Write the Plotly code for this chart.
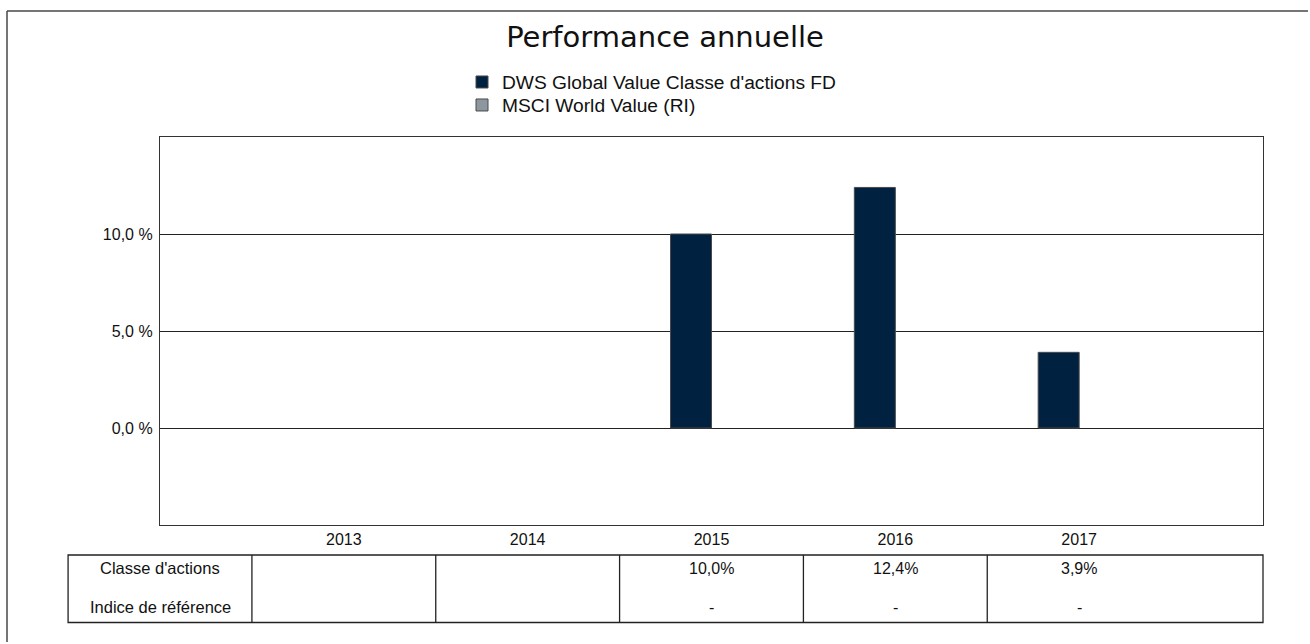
import plotly.graph_objects as go

# ---------------- data ----------------
years = ["2013", "2014", "2015", "2016", "2017"]
fund_values = [None, None, 10.0, 12.4, 3.9]
index_values = [None, None, None, None, None]
fund_table = ["", "", "10,0%", "12,4%", "3,9%"]
index_table = ["", "", "-", "-", "-"]
row_labels = ["Classe d'actions", "Indice de référence"]
series_names = ["DWS Global Value Classe d'actions FD", "MSCI World Value (RI)"]
y_ticks = [0, 5, 10]
y_ticktext = ["0,0 %", "5,0 %", "10,0 %"]
title_text = "Performance annuelle"

# ---------------- geometry ----------------
W, H = 1310, 644
L, R, T, B = 160, 47, 137, 119
PW, PH = W - L - R, H - T - B
XMIN, XMAX = -1, 5


def xp(px):
    return (px - L) / PW


def yp(py):
    return (H - B - py) / PH


def xcat(v):
    return (v - XMIN) / (XMAX - XMIN)


FONT = "Liberation Sans, Arial, sans-serif"
NAVY = "#00213F"
GREY = "#8D979F"

fig = go.Figure()
fig.add_trace(go.Bar(x=years, y=fund_values, name=series_names[0], legend="legend",
                     marker=dict(color=NAVY, line=dict(color="#4a4a4a", width=1))))
fig.add_trace(go.Bar(x=years, y=index_values, name=series_names[1], legend="legend2",
                     marker=dict(color=GREY, line=dict(color="#4a4a4a", width=1))))

shapes = []
# outer frame (only top and left edges are inside the picture)
FR = dict(color="#474747", width=1.5)
shapes.append(dict(type="line", xref="paper", yref="paper",
                   x0=xp(7), x1=xp(W - 2), y0=yp(11), y1=yp(11), line=FR))
shapes.append(dict(type="line", xref="paper", yref="paper",
                   x0=xp(7), x1=xp(7), y0=yp(11), y1=yp(H - 2), line=FR))
# table box
tbl_top, tbl_bot = yp(555), yp(622.5)
TL = dict(color="#222", width=1.3)
shapes.append(dict(type="rect", xref="paper", yref="paper",
                   x0=xcat(-1.5), x1=1, y0=tbl_bot, y1=tbl_top,
                   line=TL, fillcolor="rgba(0,0,0,0)"))
for i in range(len(years)):
    shapes.append(dict(type="line", xref="paper", yref="paper",
                       x0=xcat(i - 0.5), x1=xcat(i - 0.5), y0=tbl_bot, y1=tbl_top,
                       line=TL))

annotations = []
row_y = [yp(568), yp(607)]
for lab, ry in zip(row_labels, row_y):
    annotations.append(dict(text=lab, xref="x", yref="paper", x=-1, y=ry,
                            showarrow=False, xanchor="center", yanchor="middle",
                            font=dict(family=FONT, size=16.5, color="#111")))
for i, (a, b) in enumerate(zip(fund_table, index_table)):
    for txt, ry in ((a, row_y[0]), (b, row_y[1])):
        if txt:
            annotations.append(dict(text=txt, xref="x", yref="paper", x=i, y=ry,
                                    showarrow=False, xanchor="center", yanchor="middle",
                                    font=dict(family=FONT, size=16, color="#111")))

LEG = dict(orientation="v", xref="container", yref="container",
           xanchor="left", yanchor="top",
           font=dict(family=FONT, size=19.2, color="#111"),
           bgcolor="rgba(0,0,0,0)", itemclick=False, itemdoubleclick=False)

fig.update_layout(
    width=W, height=H,
    margin=dict(l=L, r=R, t=T, b=B, pad=0, autoexpand=False),
    paper_bgcolor="white", plot_bgcolor="white",
    barmode="group", bargap=0.554, bargroupgap=0,
    font=dict(family=FONT, size=16, color="#111"),
    title=dict(text=title_text, xref="container", yref="container",
               x=665 / W, y=1 - 37 / H, xanchor="center", yanchor="middle",
               font=dict(family="DejaVu Sans, Verdana, sans-serif", size=29, color="#111")),
    showlegend=True,
    legend=dict(LEG, x=462 / W, y=1 - 63 / H),
    legend2=dict(LEG, x=462 / W, y=1 - 86 / H),
    xaxis=dict(type="category", range=[XMIN, XMAX], showgrid=False, automargin=False,
               showline=True, linecolor="#333", linewidth=1.2, mirror=True,
               ticks="", ticklen=0,
               tickfont=dict(family=FONT, size=16, color="#111"), fixedrange=True),
    yaxis=dict(range=[-5, 15], tickvals=y_ticks, ticktext=y_ticktext, automargin=False,
               showgrid=True, gridcolor="#222", gridwidth=1.3, zeroline=False,
               showline=True, linecolor="#333", linewidth=1.3, mirror=True,
               ticks="", ticklabelstandoff=3,
               tickfont=dict(family=FONT, size=16, color="#111"), fixedrange=True),
    shapes=shapes, annotations=annotations,
)

fig.write_html("out.html")
